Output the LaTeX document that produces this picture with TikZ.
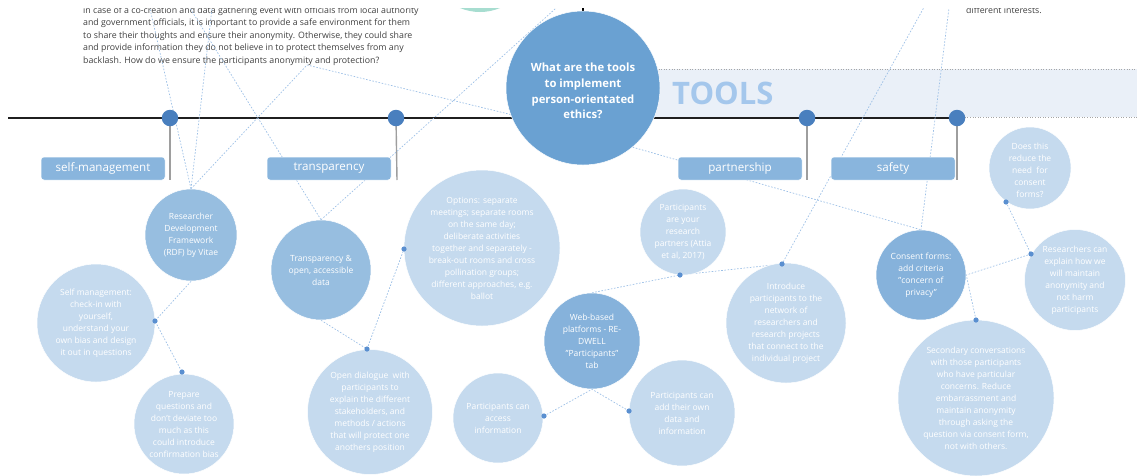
\documentclass[tikz,border=0pt]{standalone}
\usepackage{fontspec}
\setmainfont{Open Sans}
\definecolor{cMain}{HTML}{6AA1D2}
\definecolor{cMed}{HTML}{97BEE0}
\definecolor{cDark}{HTML}{86B2DB}
\definecolor{cLight}{HTML}{C5DAEE}
\definecolor{cBox}{HTML}{89B5DD}
\definecolor{cBig}{HTML}{497FBE}
\definecolor{cSmall}{HTML}{5A8FD0}
\definecolor{cLine}{HTML}{9DC0E6}
\definecolor{cBand}{HTML}{EAF0F8}
\definecolor{cTools}{HTML}{A4C7EC}
\definecolor{cTeal}{HTML}{A7DDD0}
\definecolor{cText}{HTML}{404040}
\pgfdeclarelayer{bgzero}
\pgfdeclarelayer{bgone}
\pgfsetlayers{bgzero,bgone,main}
\begin{document}
\begin{tikzpicture}[x=1pt,y=-1pt,
 bubble/.style={circle, draw=white, line width=0.5pt, inner sep=0pt},
 lightbub/.style={bubble, fill=cLight},
 medbub/.style={bubble, fill=cMed},
 darkbub/.style={bubble, fill=cDark},
 ctext/.style={text=white, align=center, inner sep=0pt, font=\fontsize{8.5}{12}\selectfont},
 catbox/.style={rounded corners=3pt, fill=cBox, draw=white, line width=0.5pt, minimum width=124pt, minimum height=23pt, inner sep=0pt, text=white, font=\fontsize{11.6}{14}\selectfont},
 link/.style={draw=cLine, line width=0.7pt, dash pattern=on 1.6pt off 1.6pt},
 sdot/.style={circle, fill=cSmall, inner sep=0pt, minimum size=5.2pt},
 bdot/.style={circle, fill=cBig, inner sep=0pt, minimum size=16.5pt},
 tickline/.style={draw=black!38, line width=1.4pt},
 para/.style={anchor=base west, inner sep=0pt, text=cText, font=\fontsize{8.8}{10}\selectfont}
]
\useasboundingbox (0,0) rectangle (1137,475);
\clip (0,8) rectangle (1137,475);

% ---------- background layer: band, text, timeline ----------
\begin{pgfonlayer}{bgzero}
\clip (0,8) rectangle (1137,475);
\fill[cBand] (630,69) rectangle (1137,117);
\draw[black!35, dotted, line width=0.6pt] (630,69) -- (1137,69);
\draw[black!35, dotted, line width=0.6pt] (957,117) -- (1137,117);
\node[anchor=base west, inner sep=0pt, text=cTools, font=\fontsize{31}{32}\selectfont\bfseries] (tools) at (672,104) {TOOLS};
\fill[cTeal] (480,-40) circle (52);
\draw[black, line width=1.4pt] (583,0) -- (583,22);
\node[para] (p1) at (83,13) {in case of a co-creation and data gathering event with officials from local authority};
\node[para] (p2) at (83,25.5) {and government officials, it is important to provide a safe environment for them};
\node[para] (p3) at (83,38) {to share their thoughts and ensure their anonymity. Otherwise, they could share};
\node[para] (p4) at (83,50.5) {and provide information they do not believe in to protect themselves from any};
\node[para] (p5) at (83,63) {backlash. How do we ensure the participants anonymity and protection?};
\node[para] (p6) at (966,13) {different interests.};
\coordinate (tlstart) at (8,118);
\coordinate (tlend) at (957,118);
\draw[black!88, line width=2.6pt] (tlstart) -- (tlend);
\end{pgfonlayer}

% ---------- category boxes and ticks ----------
\node[catbox] (cat1) at (103,168.5) {self-management};
\node[catbox] (cat2) at (329,168.5) {transparency};
\node[catbox] (cat3) at (740,168.5) {partnership};
\node[catbox] (cat4) at (893,168.5) {safety};

\coordinate (tk1) at (170,180);
\coordinate (tk2) at (397,180);
\coordinate (tk3) at (807,180);
\coordinate (tk4) at (957,180);
\node[bdot] (bd1) at (170,118) {};
\node[bdot] (bd2) at (396,118) {};
\node[bdot] (bd3) at (807,118) {};
\node[bdot] (bd4) at (957,118) {};
\begin{pgfonlayer}{bgone}
\draw[tickline] (bd1.center) -- (tk1);
\draw[tickline] (bd2.center) -- (tk2);
\draw[tickline] (bd3.center) -- (tk3);
\draw[tickline] (bd4.center) -- (tk4);
\end{pgfonlayer}

% ---------- main circle ----------
\node[bubble, fill=cMain, minimum size=154pt] (main) at (583,88) {};
\node[text=white, align=center, inner sep=0pt, font=\fontsize{11.3}{15.7}\selectfont\bfseries] (main-t) at (583,91) {What are the tools\\to implement\\person-orientated\\ethics?};

% ---------- circles ----------
\node[medbub, minimum size=92pt] (rdf) at (191,235) {};
\node[ctext] (rdf-t) at (rdf) {Researcher\\Development\\Framework\\(RDF) by Vitae};
\node[lightbub, minimum size=118pt] (self) at (96,323) {};
\node[ctext] (self-t) at (self) {Self management:\\check-in with\\yourself,\\understand your\\own bias and design\\it out in questions};
\node[lightbub, minimum size=100pt] (prep) at (184,424) {};
\node[ctext] (prep-t) at (prep) {Prepare\\questions and\\don't deviate too\\much as this\\could introduce\\confirmation bias};
\node[medbub, minimum size=100pt] (tra) at (321,270) {};
\node[ctext] (tra-t) at (tra) {Transparency \&\\open, accessible\\data};
\node[lightbub, minimum size=156pt] (opt) at (482,248) {};
\node[ctext] (opt-t) at (opt) {Options: separate\\meetings; separate rooms\\on the same day;\\deliberate activities\\together and separately -\\break-out rooms and cross\\pollination groups;\\different approaches, e.g.\\ballot};
\node[lightbub, minimum size=125pt] (open) at (370,412) {};
\node[ctext] (open-t) at (open) {Open dialogue~ with\\participants to\\explain the different\\stakeholders, and\\methods / actions\\that will protect one\\anothers position};
\node[lightbub, minimum size=90pt] (acc) at (498,418) {};
\node[ctext] (acc-t) at (acc) {Participants can\\access\\information};
\node[darkbub, minimum size=96pt] (web) at (592,341) {};
\node[ctext] (web-t) at (web) {Web-based\\platforms - RE-\\DWELL\\"Participants"\\tab};
\node[lightbub, minimum size=106pt] (add) at (682,413) {};
\node[ctext] (add-t) at (add) {Participants can\\add their own\\data and\\information};
\node[lightbub, minimum size=86pt] (par) at (683,232) {};
\node[ctext] (par-t) at (par) {Participants\\are your\\research\\partners (Attia\\et al, 2017)};
\node[lightbub, minimum size=120pt] (intro) at (786,323) {};
\node[ctext] (intro-t) at (intro) {Introduce\\participants to the\\network of\\researchers and\\research projects\\that connect to the\\individual project};
\node[lightbub, minimum size=82pt] (does) at (1030,168) {};
\node[ctext] (does-t) at (1030,170) {Does this\\reduce the\\need~ for\\consent\\forms?};
\node[darkbub, minimum size=90pt] (con) at (921,275) {};
\node[ctext] (con-t) at (con) {Consent forms:\\add criteria\\"concern of\\privacy"};
\node[lightbub, minimum size=101pt] (res) at (1075,280) {};
\node[ctext] (res-t) at (res) {Researchers can\\explain how we\\will maintain\\anonymity and\\not harm\\participants};
\node[lightbub, minimum size=156pt] (sec) at (976,398) {};
\node[ctext] (sec-t) at (sec) {Secondary conversations\\with those participants\\who have particular\\concerns. Reduce\\embarrassment and\\maintain anonymity\\through asking the\\question via consent form,\\not with others.};

% ---------- small dots ----------
\node[sdot] (d1) at (155,321) {};
\node[sdot] (d2) at (182,372) {};
\node[sdot] (d3) at (404,249) {};
\node[sdot] (d4) at (367,349) {};
\node[sdot] (d5) at (544,416) {};
\node[sdot] (d6) at (629,411) {};
\node[sdot] (d7) at (680,275) {};
\node[sdot] (d8) at (782,264) {};
\node[sdot] (d9) at (1031,254) {};
\node[sdot] (d10) at (976,320) {};
\node[sdot] (d11) at (1006,202) {};

% ---------- far ends ----------
\coordinate (t1) at (148,0);
\coordinate (t2) at (213,0);
\coordinate (pp) at (307,65);
\coordinate (t4) at (185,0);
\coordinate (t5) at (565,0);
\coordinate (t7) at (928,0);
\coordinate (t8) at (950,0);

% ---------- dashed links ----------
\begin{pgfonlayer}{bgone}
\clip (0,8) rectangle (1137,475);
\draw[link] (rdf.north) -- (t1);
\draw[link] (rdf.north) -- (t2);
\draw[link] (rdf.north) -- (pp) -- (main.200);
\draw[link] (tra.north) -- (t4);
\draw[link] (tra.north) -- (t5);
\draw[link] (main.-50) -- (con.north);
\draw[link] (t7) -- (d8.center);
\draw[link] (t8) -- (con.north);
\draw[link] (web.north) -- (d7.center) -- (d8.center);
\draw[link] (rdf.south) -- (d1.center) -- (d2.center);
\draw[link] (tra.south) -- (d4.center) -- (d3.center);
\draw[link] (d5.center) -- (web.south) -- (d6.center);
\draw[link] (d9.center) -- (con.east) -- (d10.center);
\draw[link] (d11.center) -- (d9.center);
\end{pgfonlayer}
\end{tikzpicture}
\end{document}
